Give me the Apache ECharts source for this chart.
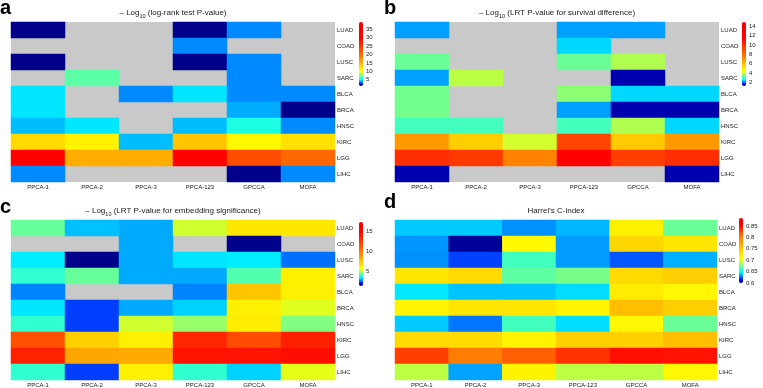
<!DOCTYPE html>
<html>
<head>
<meta charset="utf-8">
<script src="https://cdn.jsdelivr.net/npm/echarts@6/dist/echarts.min.js"></script>
<style>
html, body { margin: 0; padding: 0; background: #fff; }
#chart { width: 763px; height: 388px; }
</style>
</head>
<body>
<div id="chart"></div>
<script>
const methods = ['PPCA-1', 'PPCA-2', 'PPCA-3', 'PPCA-123', 'GPCCA', 'MOFA'];
const cancers = ['LUAD', 'COAD', 'LUSC', 'SARC', 'BLCA', 'BRCA', 'HNSC', 'KIRC', 'LGG', 'LIHC'];
const NA = '-';

// a: -log10 log-rank test P-value (rows = cancers, cols = methods)
const logRankP = [
  [1.4, NA, NA, 1.4, 3.7, NA],
  [NA, NA, NA, 3.7, NA, NA],
  [1.4, NA, NA, 1.4, 3.7, NA],
  [NA, 6.7, NA, NA, 3.7, NA],
  [4.8, NA, 3.7, 4.8, 3.7, 3.7],
  [4.8, NA, NA, NA, 4.1, 1.4],
  [4.3, 4.8, NA, 4.3, 5.6, 3.7],
  [12.8, 11.2, 4.3, 14, 10.8, 12.3],
  [30, 15.5, 15.5, 30, 23, 20.5],
  [3.7, NA, NA, NA, 1.4, 3.7]
];
// b: -log10 LRT P-value for survival difference
const survivalP = [
  [2.16, NA, NA, 2.16, 2.16, NA],
  [NA, NA, NA, 2.4, NA, NA],
  [3.25, NA, NA, 3.25, 3.8, NA],
  [2.16, 3.9, NA, NA, 1.35, NA],
  [3.3, NA, NA, 3.5, 2.4, 2.4],
  [3.3, NA, NA, 2.16, 1.35, 1.35],
  [3.0, 3.0, NA, 3.0, 3.8, 2.4],
  [6.8, 5.6, 4.1, 9.3, 5.7, 6.8],
  [10, 9.6, 7.3, 12, 9.5, 10],
  [1.35, NA, NA, NA, NA, 1.35]
];
// c: -log10 LRT P-value for embedding significance
const embeddingP = [
  [4.3, 3.06, 2.9, 5.2, 6.35, 6.35],
  [NA, NA, 2.9, NA, 1.35, NA],
  [3.4, 1.35, 2.9, 3.35, 3.4, 2.5],
  [3.9, 4.3, 2.9, 2.9, 4.15, 6.1],
  [2.6, NA, NA, 2.6, 7.4, 6.1],
  [3.35, 2.25, 2.9, 3.2, 6.1, 5.35],
  [3.9, 2.25, 5.2, 4.7, 6.2, 4.5],
  [11.6, 7.1, 6.1, 13.4, 11.8, 13.6],
  [13.6, 8.4, 8.3, 14.1, 14.1, 14.4],
  [3.9, 2.25, 6.1, 3.9, 3.2, 5.4]
];
// d: Harrel's C-index
const cIndex = [
  [0.640, 0.640, 0.631, 0.637, 0.719, 0.672],
  [0.632, 0.602, 0.712, 0.633, 0.737, 0.726],
  [0.631, 0.620, 0.663, 0.633, 0.623, 0.636],
  [0.726, 0.735, 0.669, 0.675, 0.735, 0.743],
  [0.645, 0.639, 0.639, 0.643, 0.722, 0.713],
  [0.716, 0.726, 0.726, 0.716, 0.755, 0.743],
  [0.640, 0.627, 0.663, 0.643, 0.713, 0.672],
  [0.735, 0.733, 0.716, 0.742, 0.742, 0.754],
  [0.829, 0.801, 0.814, 0.834, 0.850, 0.848],
  [0.692, 0.634, 0.716, 0.692, 0.692, 0.713]
];

const ticksA = [5, 10, 15, 20, 25, 30, 35];
const ticksB = [2, 4, 6, 8, 10, 12, 14];
const ticksC = [5, 10, 15];
const ticksD = [0.6, 0.65, 0.7, 0.75, 0.8, 0.85];

const font = 'Liberation Sans, Arial, sans-serif';
const txt = '#1a1a1a';

// jet-like ramp, colour stops squeezed toward the low end
const jet = [[0,0,128],[0,0,255],[0,128,255],[0,255,255],[128,255,128],[255,255,0],[255,128,0],[255,0,0]];
function ramp(pos) {
  let out = [];
  for (let i = 0; i <= 100; i++) {
    let f = i / 100, c = jet[jet.length - 1];
    for (let k = 0; k < pos.length - 1; k++) {
      if (f >= pos[k] && f <= pos[k + 1]) {
        let t = (f - pos[k]) / (pos[k + 1] - pos[k]);
        c = jet[k].map((v, j) => Math.round(v + (jet[k + 1][j] - v) * t));
        break;
      }
    }
    out.push('rgb(' + c.join(',') + ')');
  }
  return out;
}

function cells(m) {
  let d = [];
  m.forEach((row, r) => row.forEach((v, c) => d.push([c, r, v])));
  return d;
}

const panels = [
  { data: logRankP, min: 1.3, max: 39.3, ticks: ticksA, pos: [0, .03, .06, .10, .16, .24, .45, .75],
    grid: { left: 11, top: 22, width: 324, height: 160 }, bar: { left: 359, top: 22, h: 64 },
    title: ' (log-rank test P-value)', tx: 173, ty: 7, letter: 'a', lx: 0, ly: -2 },
  { data: survivalP, min: 1.2, max: 14.9, ticks: ticksB, pos: [0, .03, .06, .10, .16, .24, .45, .75],
    grid: { left: 395, top: 22, width: 324, height: 160 }, bar: { left: 742, top: 22, h: 64 },
    title: ' (LRT P-value for survival difference)', tx: 557, ty: 7, letter: 'b', lx: 384, ly: -2 },
  { data: embeddingP, min: 1.3, max: 17.3, ticks: ticksC, pos: [0, .04, .08, .14, .20, .27, .52, .85],
    grid: { left: 11, top: 220, width: 324, height: 162 }, bar: { left: 359, top: 222, h: 64 },
    title: ' (LRT P-value for embedding significance)', tx: 173, ty: 205, letter: 'c', lx: 0, ly: 197 },
  { data: cIndex, min: 0.6, max: 0.885, ticks: ticksD, pos: [0, .04, .10, .17, .27, .38, .70, .90],
    grid: { left: 395, top: 220, width: 322, height: 162 }, bar: { left: 739, top: 218, h: 65 },
    title: null, tx: 556, ty: 205, letter: 'd', lx: 384, ly: 192 }
];

let option = {
  backgroundColor: '#fff',
  animation: false,
  textStyle: { fontFamily: font },
  title: [], grid: [], xAxis: [], yAxis: [], visualMap: [], series: []
};

panels.forEach((p, i) => {
  option.grid.push(Object.assign({ show: true, backgroundColor: '#c9c9c9', borderWidth: 0 }, p.grid));
  option.xAxis.push({
    gridIndex: i, type: 'category', data: methods,
    axisLine: { show: false }, axisTick: { show: false }, splitLine: { show: false },
    axisLabel: { fontSize: 6, margin: 2, color: txt, fontFamily: font }
  });
  option.yAxis.push({
    gridIndex: i, type: 'category', data: cancers, inverse: true, position: 'right',
    axisLine: { show: false }, axisTick: { show: false }, splitLine: { show: false },
    axisLabel: { fontSize: 6, margin: 2, color: txt, fontFamily: font }
  });
  option.series.push({
    type: 'heatmap', xAxisIndex: i, yAxisIndex: i, data: cells(p.data),
    itemStyle: { borderWidth: 0 }, emphasis: { disabled: true }, progressive: 0
  });
  option.visualMap.push({
    type: 'continuous', seriesIndex: i, min: p.min, max: p.max,
    left: p.bar.left, top: p.bar.top, itemWidth: 4, itemHeight: p.bar.h,
    padding: 0, calculable: false, hoverLink: false,
    inRange: { color: ramp(p.pos) }
  });
  option.title.push({
    text: p.letter, left: p.lx, top: p.ly, padding: 0,
    textStyle: { fontSize: 20, fontWeight: 'bold', color: '#000', fontFamily: font, lineHeight: 20 }
  });
  option.title.push({
    text: p.title ? '{t|– Log}{s|10}{t|' + p.title + '}' : "{t|Harrel's C-index}",
    left: p.tx, top: p.ty, padding: 0, textAlign: 'center',
    textStyle: {
      color: txt, fontFamily: font, fontWeight: 'normal',
      rich: {
        t: { fontSize: 8, lineHeight: 12, verticalAlign: 'middle', color: txt, fontFamily: font, fontWeight: 'normal' },
        s: { fontSize: 5.5, lineHeight: 6, verticalAlign: 'bottom', color: txt, fontFamily: font, fontWeight: 'normal' }
      }
    }
  });
});

// tick labels beside each colour bar
panels.forEach((p, i) => {
  let g = 4 + i;
  option.grid.push({ left: p.bar.left, top: p.bar.top, width: 4, height: p.bar.h, show: false });
  option.xAxis.push({ gridIndex: g, type: 'value', show: false });
  option.yAxis.push({
    gridIndex: g, type: 'value', min: p.min, max: p.max, position: 'right',
    axisLine: { show: false }, axisTick: { show: false }, splitLine: { show: false },
    axisLabel: { fontSize: 6, margin: 3, color: txt, fontFamily: font, customValues: p.ticks }
  });
});

let chart = echarts.init(document.getElementById('chart'), null, { renderer: 'canvas' });
chart.setOption(option);
</script>
</body>
</html>
